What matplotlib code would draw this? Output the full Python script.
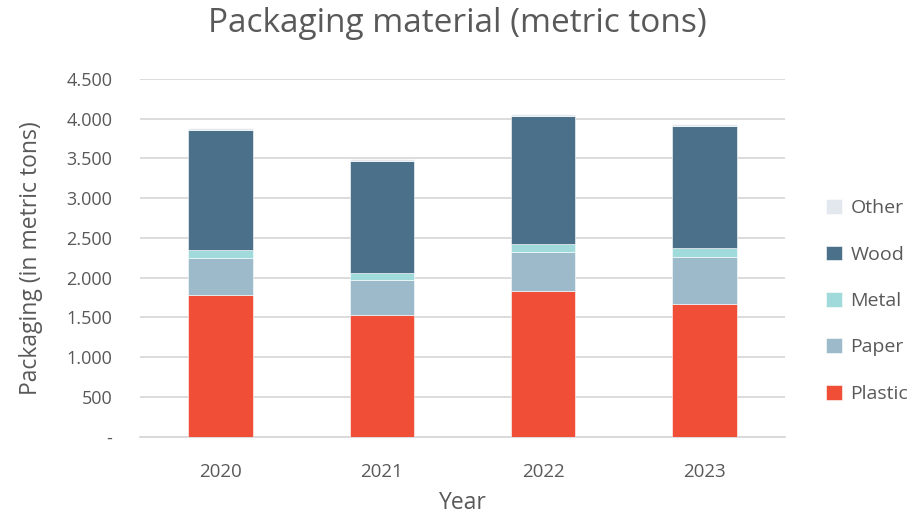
import matplotlib
matplotlib.use("Agg")
import matplotlib.pyplot as plt
from matplotlib.ticker import FixedLocator, FuncFormatter
import numpy as np

years = ["2020", "2021", "2022", "2023"]
plastic = [1787, 1527, 1829, 1665]
paper = [460, 444, 490, 595]
metal = [97, 93, 109, 109]
wood = [1517, 1403, 1604, 1534]
other = [25, 21, 22, 34]

series = [("Plastic", plastic, "#F04E37"),
          ("Paper", paper, "#9DBACB"),
          ("Metal", metal, "#A0DADB"),
          ("Wood", wood, "#4B7089"),
          ("Other", other, "#E2E8EE")]

plt.rcParams['font.family'] = ['Open Sans', 'DejaVu Sans']
txt = "#595959"

fig = plt.figure(figsize=(9.13, 5.17), dpi=100)
ax = fig.add_axes([140/913, 1-436.5/517, 645/913, (436.5-79)/517])

x = np.arange(len(years))
bottom = np.zeros(len(years))
handles = []
for name, vals, col in series:
    b = ax.bar(x, vals, 0.40, bottom=bottom, color=col, label=name,
               edgecolor="white", linewidth=0.4, zorder=3)
    bottom += np.array(vals)
    handles.append(b)

ax.set_xlim(-0.5, 3.5)
ax.set_ylim(0, 4500)
ax.yaxis.set_major_locator(FixedLocator(np.arange(0, 4501, 500)))
ax.yaxis.set_major_formatter(FuncFormatter(lambda v, p: "-" if v == 0 else f"{int(v):,}".replace(",", ".")))
ax.set_xticks(x)
ax.set_xticklabels(years)
ax.grid(axis="y", color="#D9D9D9", linewidth=1.3, zorder=0)
for s in ["top", "right", "left"]:
    ax.spines[s].set_visible(False)
ax.spines["bottom"].set_color("#D9D9D9")
ax.spines["bottom"].set_linewidth(1.3)
ax.tick_params(axis="y", length=0, labelsize=13, colors=txt, pad=20)
ax.tick_params(axis="x", length=0, labelsize=13.5, colors=txt, pad=19)

fig.text(31/913, 1-258/517, "Packaging (in metric tons)", fontsize=16.5, color=txt,
         ha="center", va="center", rotation=90)
fig.text(463/913, 1-503/517, "Year", fontsize=16.5, color=txt, ha="center", va="center")
fig.text(457/913, 1-24/517, "Packaging material (metric tons)", fontsize=24,
         color=txt, ha="center", va="center")

leg = fig.legend(handles[::-1], [s[0] for s in series][::-1],
                 loc="center left", bbox_to_anchor=(826/913, 1-301/517),
                 borderaxespad=0, borderpad=0,
                 frameon=False, fontsize=14, labelcolor=txt,
                 handlelength=0.8, handleheight=0.8, handletextpad=0.45,
                 labelspacing=1.45)

fig.savefig("out.png", dpi=100)
